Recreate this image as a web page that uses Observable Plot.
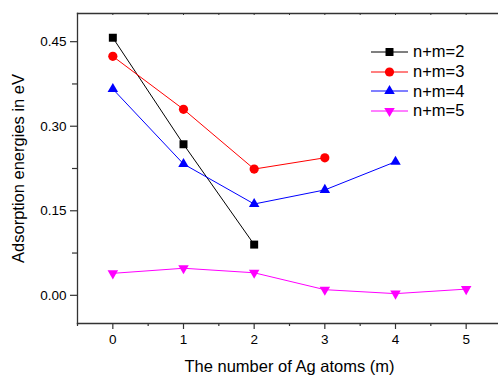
<!DOCTYPE html>
<html>
<head>
<meta charset="utf-8">
<script src="https://cdn.jsdelivr.net/npm/d3@7"></script>
<script src="https://cdn.jsdelivr.net/npm/@observablehq/plot@0.6"></script>
<style>
  html, body { margin: 0; padding: 0; background: #fff; }
  #wrap { position: relative; width: 498px; height: 375px; font-family: "Liberation Sans", Arial, sans-serif; }
  #legend { position: absolute; left: 371px; top: 42px; }
  .row { display: flex; align-items: center; height: 19.7px; }
  .row span { font-size: 16.5px; margin-left: 5px; color: #000; }
</style>
</head>
<body>
<div id="wrap"><div id="legend"></div></div>
<script>
const agAtoms = [0, 1, 2, 3, 4, 5];
const seriesNames = ["n+m=2", "n+m=3", "n+m=4", "n+m=5"];
const seriesColors = ["#000000", "#ff0000", "#0000ff", "#ff00ff"];
const values2 = [0.457, 0.268, 0.090];
const values3 = [0.424, 0.330, 0.224, 0.244];
const values4 = [0.366, 0.233, 0.162, 0.187, 0.237];
const values5 = [0.039, 0.048, 0.040, 0.010, 0.003, 0.011];
const yTicks = [0, 0.15, 0.30, 0.45];
const xTicks = [0, 1, 2, 3, 4, 5];
const xLabel = "The number of Ag atoms (m)";
const yLabel = "Adsorption energies in eV";

const allValues = [values2, values3, values4, values5];
const data = [];
allValues.forEach((vals, si) => vals.forEach((v, i) => data.push({series: seriesNames[si], m: agAtoms[i], e: v})));

const invTriangle = {
  draw(context, size) {
    const y = Math.sqrt(size / (3 * Math.sqrt(3)));
    context.moveTo(0, 2 * y);
    context.lineTo(-Math.sqrt(3) * y, -y);
    context.lineTo(Math.sqrt(3) * y, -y);
    context.closePath();
  }
};
const symbols = ["square", "circle", "triangle", invTriangle];
const radii = [4.5, 4.6, 3.9, 3.9];

const xMinor = d3.range(-0.5, 5.51, 0.5).filter(d => !Number.isInteger(d));
const xAllHalf = d3.range(-0.5, 5.51, 0.5);
const yMinor = [0.075, 0.225, 0.375];

const font = "Liberation Sans, Arial, sans-serif";
const axisColor = "#333";

const marks = [
  Plot.frame({anchor: "top", stroke: axisColor, strokeWidth: 1.3}),
  Plot.frame({anchor: "bottom", stroke: axisColor, strokeWidth: 1.3}),
  Plot.frame({anchor: "left", stroke: axisColor, strokeWidth: 1.3}),
  Plot.ruleX(xAllHalf, {x: d => d, insetBottom: 308, stroke: axisColor, strokeWidth: 1}),
  Plot.axisX({ticks: xTicks, tickSize: 6, tickPadding: 5, fontSize: 13.5, stroke: axisColor, strokeWidth: 1.2, fill: "#000", label: null, tickFormat: d3.format("d")}),
  Plot.axisX({ticks: xMinor, tickSize: 3, text: null, stroke: axisColor, strokeWidth: 1.2, label: null}),
  Plot.axisY({ticks: yTicks, tickSize: 7, tickPadding: 4, fontSize: 13.5, stroke: axisColor, strokeWidth: 1.2, fill: "#000", label: null, tickFormat: d3.format(".2f")}),
  Plot.axisY({ticks: yMinor, tickSize: 5, text: null, stroke: axisColor, strokeWidth: 1.2, label: null}),
  Plot.text([xLabel], {text: d => d, frameAnchor: "bottom", lineAnchor: "middle", dy: 43, fontSize: 16.5, fill: "#000"}),
  Plot.text([yLabel], {text: d => d, frameAnchor: "left", textAnchor: "middle", lineAnchor: "middle", dx: -59, rotate: -90, fontSize: 16.5, fill: "#000"})
];
seriesNames.forEach((s, si) => {
  const sd = data.filter(d => d.series === s);
  marks.push(Plot.line(sd, {x: "m", y: "e", stroke: seriesColors[si], strokeWidth: 1}));
  marks.push(Plot.dot(sd, {x: "m", y: "e", symbol: () => symbols[si], r: radii[si], fill: seriesColors[si], stroke: "none"}));
});

const chart = Plot.plot({
  width: 498,
  height: 375,
  marginLeft: 77,
  marginTop: 13,
  marginBottom: 52,
  marginRight: -3,
  style: {fontFamily: font, background: "#fff", overflow: "hidden"},
  x: {domain: [-0.5, 5.5]},
  y: {domain: [-0.05, 0.5]},
  symbol: {type: "identity"},
  marks
});
const wrap = document.getElementById("wrap");
wrap.insertBefore(chart, wrap.firstChild);

// Legend
const legend = document.getElementById("legend");
const d3Symbols = [d3.symbolSquare, d3.symbolCircle, d3.symbolTriangle, invTriangle];
seriesNames.forEach((s, si) => {
  const row = document.createElement("div");
  row.className = "row";
  const svg = d3.create("svg").attr("width", 37).attr("height", 14);
  svg.append("line").attr("x1", 0).attr("x2", 37).attr("y1", 7).attr("y2", 7).attr("stroke", seriesColors[si]).attr("stroke-width", 1);
  const sym = d3.symbol(d3Symbols[si], Math.PI * radii[si] ** 2);
  svg.append("path").attr("d", sym()).attr("transform", "translate(18.5,7)").attr("fill", seriesColors[si]);
  row.appendChild(svg.node());
  const t = document.createElement("span");
  t.textContent = s;
  row.appendChild(t);
  legend.appendChild(row);
});
</script>
</body>
</html>
